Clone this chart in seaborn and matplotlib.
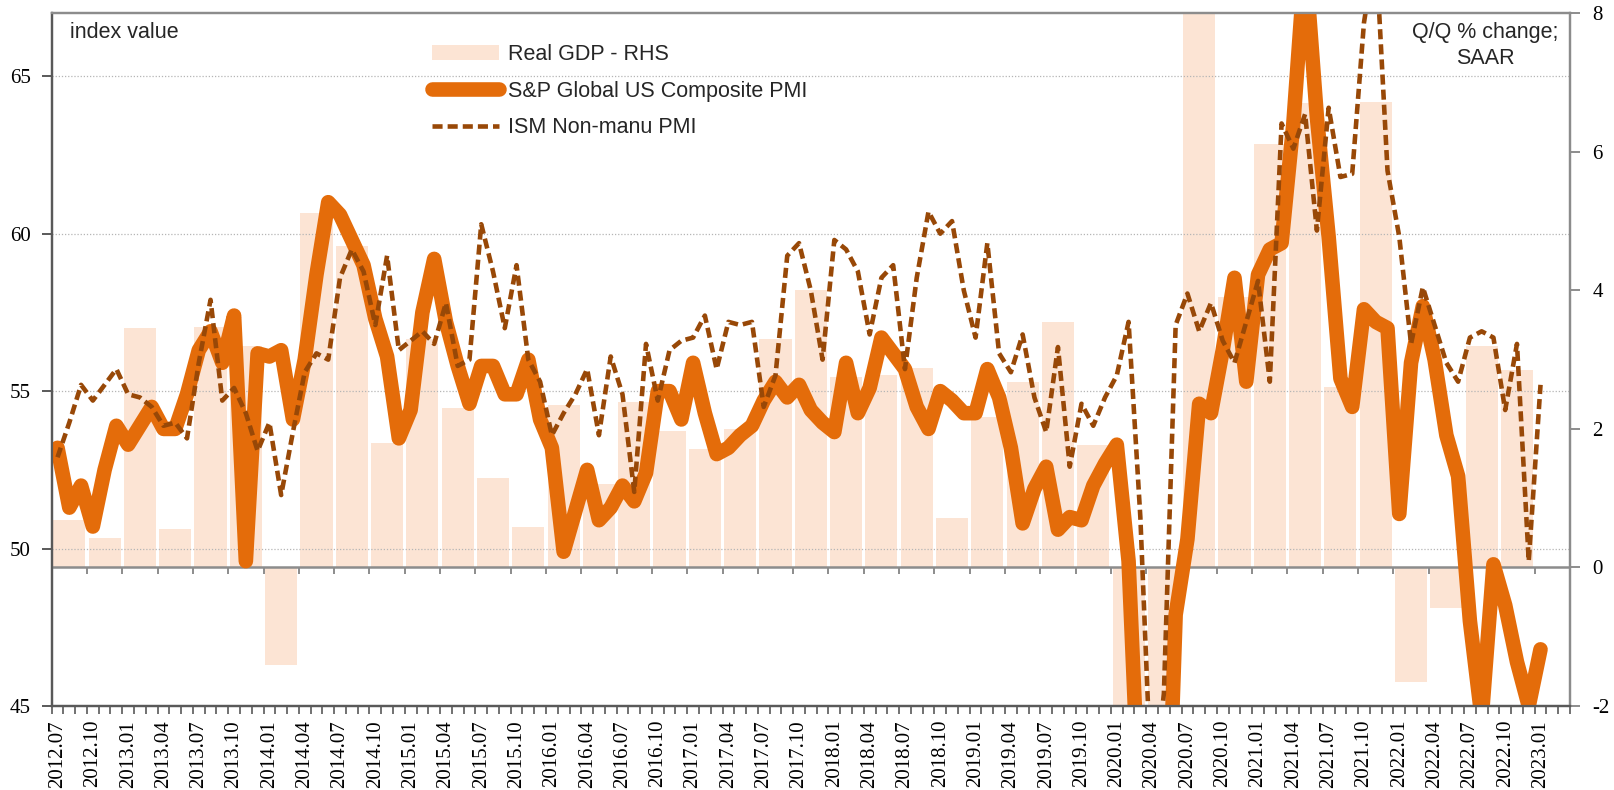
import matplotlib
matplotlib.use("Agg")
import matplotlib.pyplot as plt
import seaborn as sns
import numpy as np
import pandas as pd
from matplotlib.patches import Patch
from matplotlib.lines import Line2D

# monthly index values, 2012.07 .. 2023.01
composite_pmi = [
    53.2, 51.3, 52.0, 50.7, 52.5, 53.9, 53.3, 53.9, 54.5, 53.8, 53.8, 54.9,
    56.3, 56.9, 55.9, 57.4, 49.6, 56.2, 56.1, 56.3, 54.1, 56.0, 58.7, 61.0,
    60.6, 59.8, 59.0, 57.3, 56.1, 53.5, 54.4, 57.5, 59.2, 57.2, 55.8, 54.6,
    55.8, 55.8, 54.9, 54.9, 56.0, 54.1, 53.2, 49.9, 51.2, 52.5, 50.9, 51.3,
    52.0, 51.5, 52.4, 55.0, 55.0, 54.1, 55.9, 54.3, 53.0, 53.2, 53.6, 53.9,
    54.7, 55.3, 54.8, 55.2, 54.4, 54.0, 53.7, 55.9, 54.3, 55.1, 56.7, 56.2,
    55.7, 54.5, 53.8, 55.0, 54.7, 54.3, 54.3, 55.7, 54.8, 53.2, 50.8, 51.9,
    52.6, 50.6, 51.0, 50.9, 52.0, 52.7, 53.3, 49.6, 40.9, 27.0, 37.0, 47.9,
    50.3, 54.6, 54.3, 56.3, 58.6, 55.3, 58.7, 59.5, 59.7, 63.5, 68.7, 63.7,
    59.9, 55.4, 54.5, 57.6, 57.2, 57.0, 51.1, 55.9, 57.7, 56.0, 53.6, 52.3,
    47.7, 44.6, 49.5, 48.2, 46.4, 45.0, 46.8,
]
ism_nonmanu = [
    52.9, 54.0, 55.2, 54.7, 55.2, 55.7, 54.9, 54.8, 54.5, 53.9, 54.0, 53.5,
    55.9, 57.9, 54.7, 55.1, 54.3, 53.1, 54.0, 51.7, 53.7, 55.6, 56.2, 56.0,
    58.6, 59.5, 58.8, 57.1, 59.3, 56.3, 56.6, 56.9, 56.5, 57.8, 55.8, 56.0,
    60.3, 58.8, 57.0, 59.0, 56.0, 55.3, 53.6, 54.3, 54.9, 55.7, 53.6, 56.1,
    54.9, 51.8, 56.5, 54.7, 56.3, 56.6, 56.7, 57.4, 55.7, 57.2, 57.1, 57.2,
    54.5, 55.5, 59.3, 59.7, 58.2, 56.0, 59.8, 59.5, 58.8, 56.8, 58.6, 59.0,
    55.7, 58.6, 60.7, 60.0, 60.4, 58.2, 56.7, 59.7, 56.2, 55.6, 56.8, 54.8,
    53.7, 56.4, 52.6, 54.6, 53.9, 54.8, 55.5, 57.2, 51.0, 41.8, 45.4, 57.1,
    58.1, 56.9, 57.8, 56.6, 55.9, 57.2, 58.5, 55.3, 63.5, 62.7, 63.8, 60.1,
    64.0, 61.8, 61.9, 66.7, 69.1, 62.0, 59.9, 56.5, 58.3, 57.1, 55.9, 55.3,
    56.7, 56.9, 56.7, 54.4, 56.5, 49.6, 55.2,
]
# quarterly real GDP, Q/Q % SAAR, 2012Q3 .. 2022Q4
gdp_qoq = [
    0.69, 0.43,
    3.45, 0.55, 3.47, 3.2,
    -1.41, 5.11, 4.64, 1.79,
    3.3, 2.3, 1.29, 0.59,
    2.34, 1.2, 2.39, 1.97,
    1.71, 2.0, 3.3, 4.0,
    2.75, 2.78, 2.88, 0.72,
    2.17, 2.68, 3.55, 1.77,
    -5.5, -29.9, 35.3, 3.9,
    6.12, 6.7, 2.6, 6.72,
    -1.65, -0.58, 3.2, 2.85,
]
tick_labels = [
    "2012.07", "2012.10", "2013.01", "2013.04", "2013.07", "2013.10",
    "2014.01", "2014.04", "2014.07", "2014.10", "2015.01", "2015.04",
    "2015.07", "2015.10", "2016.01", "2016.04", "2016.07", "2016.10",
    "2017.01", "2017.04", "2017.07", "2017.10", "2018.01", "2018.04",
    "2018.07", "2018.10", "2019.01", "2019.04", "2019.07", "2019.10",
    "2020.01", "2020.04", "2020.07", "2020.10", "2021.01", "2021.04",
    "2021.07", "2021.10", "2022.01", "2022.04", "2022.07", "2022.10",
    "2023.01",
]
n_slots = 129  # monthly slots on the axis: 2012.07 .. 2023.03

orange = "#E46C0A"
brown = "#984807"
peach = "#FCE4D4"
dash = (0, (2.2, 1.1))
thick = 10.5
thin = 3.3

lines = pd.DataFrame({
    "month": np.arange(len(composite_pmi)),
    "composite": composite_pmi,
    "ism": ism_nonmanu,
})
bars = pd.DataFrame({
    "month": np.arange(len(gdp_qoq)) * 3 + 1,
    "gdp": gdp_qoq,
})

sns.set_theme(style="white")
plt.rcParams["font.family"] = ["Liberation Serif", "DejaVu Serif"]
plt.rcParams["axes.unicode_minus"] = False

fig = plt.figure(figsize=(16.14, 7.9), dpi=100)
ax_r = fig.add_axes([0.0320, 0.1063, 0.9407, 0.8769])
ax_l = ax_r.twinx()

# bars on the right-hand scale, drawn underneath
sns.barplot(data=bars, x="month", y="gdp", ax=ax_r, native_scale=True,
            width=0.91, color=peach, saturation=1, linewidth=0,
            errorbar=None, zorder=1)
ax_r.axhline(0, color="#8c8c8c", lw=1.8, zorder=3)
ax_r.vlines(np.arange(1, len(gdp_qoq) + 1) * 3 - 0.5, -0.09, 0,
            color="#8c8c8c", lw=1.4, zorder=3)
ax_r.set_ylim(-2, 8)
ax_r.set_yticks([-2, 0, 2, 4, 6, 8])
ax_r.yaxis.set_ticks_position("right")
ax_r.yaxis.set_label_position("right")
ax_r.set_ylabel("")
ax_r.set_xlabel("")

# lines on the left-hand scale
sns.lineplot(data=lines, x="month", y="composite", ax=ax_l, color=orange,
             linewidth=thick, solid_capstyle="round", solid_joinstyle="round",
             errorbar=None, legend=False)
sns.lineplot(data=lines, x="month", y="ism", ax=ax_l, color=brown,
             linewidth=thin, linestyle=dash, errorbar=None, legend=False)
ax_l.set_ylim(45, 67)
ax_l.set_yticks([45, 50, 55, 60, 65])
ax_l.yaxis.set_ticks_position("left")
ax_l.yaxis.set_label_position("left")
ax_l.set_ylabel("")
ax_l.set_xlabel("")
ax_l.yaxis.grid(True, linestyle=(0, (1, 1.5)), color="#b5b5b5", lw=0.9)

ax_r.set_xlim(-0.5, n_slots - 0.5)
ax_r.set_xticks(np.arange(len(tick_labels)) * 3)
ax_r.set_xticklabels(tick_labels, rotation=90)
ax_r.set_xticks(np.arange(n_slots + 1) - 0.5, minor=True)
ax_r.tick_params(axis="x", which="major", length=0, pad=10, labelsize=15,
                 colors="black")
ax_r.tick_params(axis="x", which="minor", length=6, width=1.2,
                 color="#595959", direction="out", bottom=True)
ax_r.tick_params(axis="y", length=7, width=1.4, color="#8c8c8c",
                 direction="out", pad=9, labelsize=15, labelcolor="black")
ax_l.tick_params(axis="y", length=7, width=1.4, color="#595959",
                 direction="out", pad=8, labelsize=15, labelcolor="black")

for ax in (ax_r, ax_l):
    for side in ("left", "bottom"):
        ax.spines[side].set_color("#595959")
        ax.spines[side].set_linewidth(1.6)
    for side in ("top", "right"):
        ax.spines[side].set_color("#8c8c8c")
        ax.spines[side].set_linewidth(1.6)

sans = ["Liberation Sans", "DejaVu Sans"]
ax_l.text(0.012, 0.987, "index value", transform=ax_l.transAxes,
          ha="left", va="top", family=sans, size=15.5)
ax_l.text(0.944, 0.987, "Q/Q % change;\nSAAR", transform=ax_l.transAxes,
          ha="center", va="top", multialignment="center", linespacing=1.3,
          family=sans, size=15.5)

handles = [
    Patch(facecolor=peach, edgecolor="none"),
    Line2D([], [], color=orange, lw=thick, solid_capstyle="round"),
    Line2D([], [], color=brown, lw=thin, linestyle=dash),
]
names = ["Real GDP - RHS", "S&P Global US Composite PMI", "ISM Non-manu PMI"]
ax_l.legend(handles, names, loc="upper left", bbox_to_anchor=(0.2505, 0.955),
            frameon=False, prop={"family": sans, "size": 15.5},
            handlelength=3.1, handletextpad=0.42, labelspacing=0.72,
            borderaxespad=0, borderpad=0)

fig.savefig("out.png", dpi=100)
